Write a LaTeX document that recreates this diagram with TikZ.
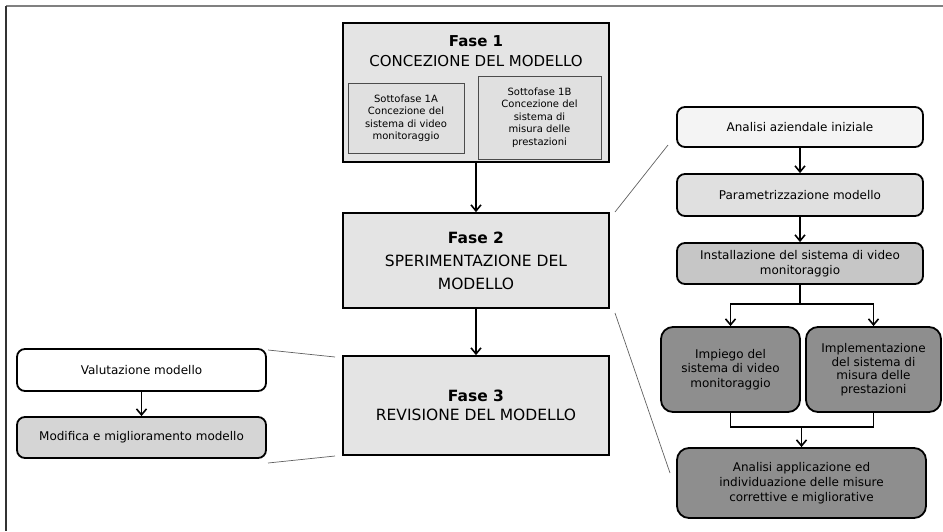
\documentclass[tikz,border=0pt]{standalone}
\usepackage{fontspec}
\setmainfont{DejaVu Sans}
\usepackage{xcolor}
\usepackage{tikz}
\usetikzlibrary{arrows.meta}

\definecolor{fasegray}{HTML}{E4E4E4}
\definecolor{lightbox}{HTML}{F4F4F4}
\definecolor{midbox}{HTML}{E0E0E0}
\definecolor{instbox}{HTML}{C6C6C6}
\definecolor{darkbox}{HTML}{8E8E8E}
\definecolor{zoomline}{HTML}{606060}

\begin{document}
\begin{tikzpicture}[x=1pt,y=-1pt,
  fase/.style={draw, line width=1.8pt, fill=fasegray, minimum width=266pt, inner sep=0pt, align=center},
  subfase/.style={draw=black!70, line width=0.8pt, fill=midbox, inner sep=0pt, align=center,
    font=\fontsize{10}{12.5}\selectfont},
  passo/.style={draw, line width=1.8pt, rounded corners=8pt, inner sep=0pt, align=center,
    font=\fontsize{12}{15}\selectfont},
  freccia/.style={-{Straight Barb[length=6pt,width=10pt]}, line width=1.6pt},
  zoom/.style={draw=zoomline, line width=0.7pt}]
\useasboundingbox (0,0) rectangle (943,531);

% cornice
\draw[black!50, line width=1.5pt] (6,6)--(943,6);
\draw[black!80, line width=1.3pt] (6,6)--(6,531);

% fasi
\node[fase, minimum height=139pt] (f1) at (476,92.5) {};
\node[align=center, font=\fontsize{15}{20}\selectfont] (f1t) at (476,51) {\textbf{Fase 1}\\CONCEZIONE DEL MODELLO};
\node[subfase, minimum width=116pt, minimum height=70pt] (s1a) at (406,118)
  {Sottofase 1A\\Concezione del\\sistema di video\\monitoraggio};
\node[subfase, minimum width=123pt, minimum height=83pt] (s1b) at (539.5,117.5)
  {Sottofase 1B\\Concezione del\\sistema di\\misura delle\\prestazioni};
\node[fase, minimum height=95pt, font=\fontsize{15.5}{23}\selectfont] (f2) at (476,260.5)
  {\textbf{Fase 2}\\SPERIMENTAZIONE DEL\\MODELLO};
\node[fase, minimum height=99pt, font=\fontsize{15.5}{19}\selectfont] (f3) at (476,405.5)
  {\textbf{Fase 3}\\REVISIONE DEL MODELLO};
\draw[freccia] (f1) -- (f2);
\draw[freccia] (f2) -- (f3);

% revisione
\node[passo, fill=white, minimum width=249pt, minimum height=42pt] (val) at (141.5,370) {Valutazione modello};
\node[passo, fill=midbox!95!black, minimum width=249pt, minimum height=41pt] (mod) at (141.5,437.5) {Modifica e miglioramento modello};
\draw[freccia] (val) -- (mod);

% sperimentazione
\node[passo, fill=lightbox, minimum width=246pt, minimum height=40pt] (ana) at (800,127) {Analisi aziendale iniziale};
\node[passo, fill=midbox, minimum width=246pt, minimum height=42pt] (par) at (800,195) {Parametrizzazione modello};
\node[passo, fill=instbox, minimum width=246pt, minimum height=41pt] (ins) at (800,263.5)
  {Installazione del sistema di video\\monitoraggio};
\node[passo, fill=darkbox, minimum width=139pt, minimum height=85pt, rounded corners=12pt,
  font=\fontsize{12}{14.5}\selectfont] (imp) at (730.5,369.5)
  {Impiego del\\sistema di video\\monitoraggio};
\node[passo, fill=darkbox, minimum width=135pt, minimum height=85pt, rounded corners=12pt,
  font=\fontsize{12}{13.5}\selectfont] (impl) at (873.5,369.5)
  {Implementazione\\del sistema di\\misura delle\\prestazioni};
\node[passo, fill=darkbox, minimum width=249pt, minimum height=70pt, rounded corners=12pt] (app) at (801.5,483)
  {Analisi applicazione ed\\individuazione delle misure\\correttive e migliorative};
\draw[freccia] (ana) -- (par);
\draw[freccia] (par) -- (ins);
\draw[freccia] (ins.south) -- ++(0,19) -| (imp.north);
\draw[freccia] (ins.south) -- ++(0,19) -| (impl.north);
\draw[line width=1.6pt] (imp.south) -- ++(0,14) -| (impl.south);
\coordinate (unione) at (801.5,426);
\draw[freccia] (unione) -- (app);

% linee di ingrandimento
\coordinate (z1) at (615,212);
\coordinate (z2) at (668,145);
\coordinate (z3) at (615,313);
\coordinate (z4) at (670,473);
\coordinate (z5) at (268,350);
\coordinate (z6) at (335,357);
\coordinate (z7) at (268,463);
\coordinate (z8) at (335,456);
\draw[zoom] (z1)--(z2);
\draw[zoom] (z3)--(z4);
\draw[zoom] (z5)--(z6);
\draw[zoom] (z7)--(z8);
\end{tikzpicture}
\end{document}
